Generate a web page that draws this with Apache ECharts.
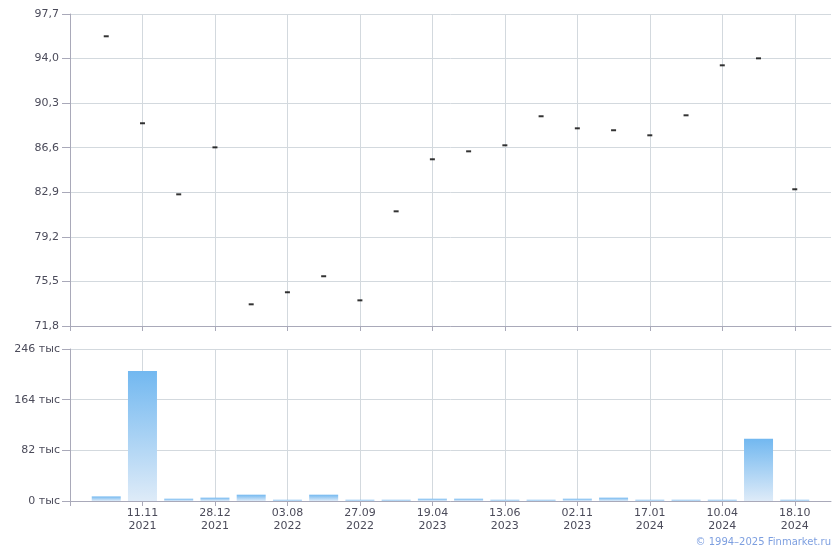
<!DOCTYPE html>
<html>
<head>
<meta charset="utf-8">
<script src="https://cdn.jsdelivr.net/npm/echarts@6/dist/echarts.min.js"></script>
<style>
html,body{margin:0;padding:0;background:#fff;}
#chart{width:840px;height:550px;}
</style>
</head>
<body>
<div id="chart"></div>
<script>
// Dates of the 20 observations ('' where the date is not labelled on the axis)
const dates = ['', '11.11.2021', '', '28.12.2021', '', '03.08.2022', '', '27.09.2022', '', '19.04.2023',
               '', '13.06.2023', '', '02.11.2023', '', '17.01.2024', '', '10.04.2024', '', '18.10.2024'];
// Price (top panel)
const prices = [95.85, 88.63, 82.73, 86.63, 73.60, 74.60, 75.93, 73.93, 81.32, 85.64,
                86.30, 86.80, 89.21, 88.21, 88.05, 87.63, 89.29, 93.44, 94.02, 83.15];
// Volume (bottom panel)
const volumes = [7400, 210500, 3700, 5400, 10200, 2000, 10200, 2000, 2000, 3700,
                 3700, 2000, 2000, 3700, 5400, 2000, 2000, 2000, 100600, 2000];
// Axis ticks
const priceTicks = {min: 71.8, max: 97.7, step: 3.7};
const volumeTicks = {min: 0, max: 246000, step: 82000};

// Pad with one empty slot on each side
const cats = [''].concat(dates).concat(['']);
const priceData = [null].concat(prices).concat([null]);
const volumeData = [null].concat(volumes).concat([null]);

const FONT = 'DejaVu Sans';
const axisLineColor = '#a9a9b9';
const gridColor = '#d3d9de';
const textColor = '#4b4b5a';

function xAxis(gridIndex, showLabels) {
  return {
    type: 'category', gridIndex: gridIndex, data: cats, boundaryGap: false,
    axisLine: {show: true, lineStyle: {color: axisLineColor, width: 1}},
    axisTick: {show: true, interval: 1, length: 5, lineStyle: {color: axisLineColor}},
    splitLine: {show: true, interval: 1, lineStyle: {color: gridColor, width: 1}},
    axisLabel: {
      show: showLabels, interval: 1, margin: 6, color: textColor,
      fontFamily: FONT, fontSize: 11, lineHeight: 13,
      formatter: function (v) {
        if (!v) return '';
        const p = v.split('.');
        return p[0] + '.' + p[1] + '\n' + p[2];
      }
    }
  };
}

const option = {
  animation: false,
  backgroundColor: '#fff',
  grid: [
    {left: 70, right: 9, top: 14, height: 312, containLabel: false},
    {left: 70, right: 9, top: 349, height: 152, containLabel: false}
  ],
  xAxis: [xAxis(0, false), xAxis(1, true)],
  yAxis: [
    {
      type: 'value', gridIndex: 0, min: priceTicks.min, max: priceTicks.max, interval: priceTicks.step,
      axisLine: {show: true, lineStyle: {color: axisLineColor}},
      axisTick: {show: true, length: 8, lineStyle: {color: axisLineColor}},
      splitLine: {show: true, lineStyle: {color: gridColor}},
      axisLabel: {color: textColor, fontFamily: FONT, fontSize: 11, margin: 11,
        formatter: function (v) { return v.toFixed(1).replace('.', ','); }}
    },
    {
      type: 'value', gridIndex: 1, min: volumeTicks.min, max: volumeTicks.max, interval: volumeTicks.step,
      axisLine: {show: true, lineStyle: {color: axisLineColor}},
      axisTick: {show: true, length: 8, lineStyle: {color: axisLineColor}},
      splitLine: {show: true, lineStyle: {color: gridColor}},
      axisLabel: {color: textColor, fontFamily: FONT, fontSize: 11, margin: 10,
        formatter: function (v) { return Math.round(v / 1000) + ' тыс'; }}
    }
  ],
  series: [
    {
      type: 'scatter', xAxisIndex: 0, yAxisIndex: 0, data: priceData,
      symbol: 'rect', symbolSize: [5, 2], itemStyle: {color: '#000'}, silent: true
    },
    {
      type: 'bar', xAxisIndex: 1, yAxisIndex: 1, data: volumeData, barWidth: 29,
      itemStyle: {
        color: new echarts.graphic.LinearGradient(0, 0, 0, 1, [
          {offset: 0, color: '#72b8f0'},
          {offset: 1, color: '#deebf8'}
        ])
      },
      silent: true
    }
  ],
  graphic: [
    {
      type: 'text', right: 9, bottom: 3,
      style: {text: '© 1994–2025 Finmarket.ru', fill: '#7d9fe0', font: '10px "DejaVu Sans"'}
    }
  ]
};

const chart = echarts.init(document.getElementById('chart'), null, {renderer: 'canvas'});
chart.setOption(option);
</script>
</body>
</html>
